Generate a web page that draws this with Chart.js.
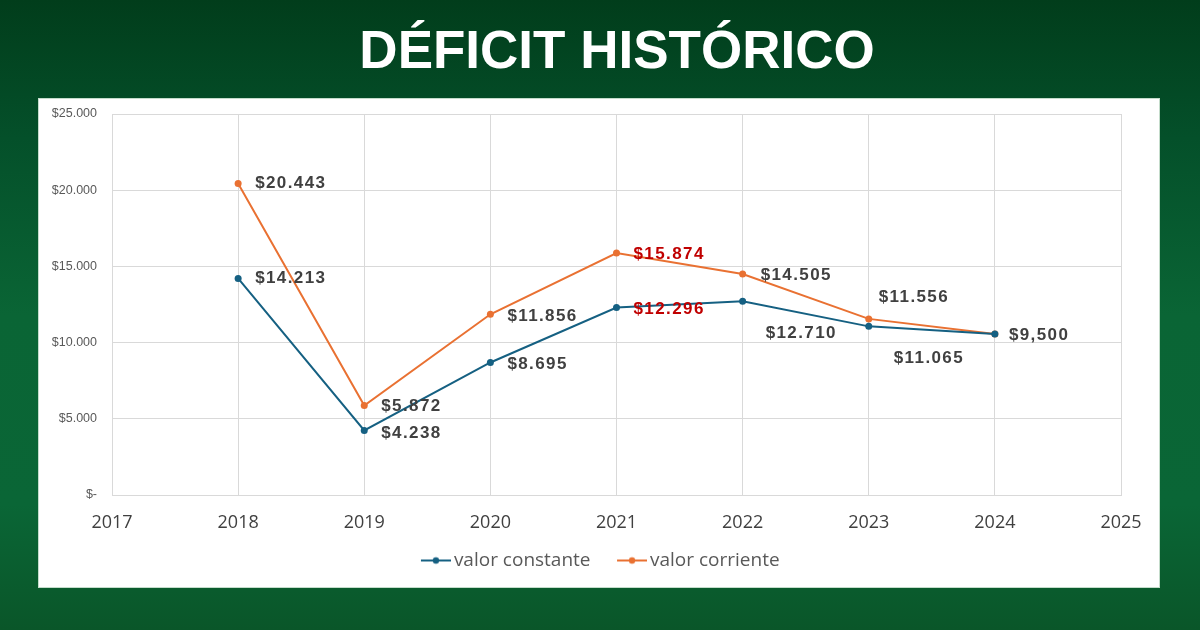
<!DOCTYPE html>
<html>
<head>
<meta charset="utf-8">
<script src="https://cdn.jsdelivr.net/npm/chart.js@4.4.1/dist/chart.umd.min.js"></script>
<style>
  html, body { margin: 0; padding: 0; }
  body {
    width: 1200px; height: 630px; overflow: hidden; position: relative;
    background: linear-gradient(180deg, #013d1b 0%, #04502a 22%, #0a6535 50%, #0a6636 80%, #0a5629 100%);
  }
  #title {
    position: absolute; left: 17px; top: 2px; width: 1200px; height: 94px;
    display: flex; align-items: center; justify-content: center;
    color: #fff; font-family: "Liberation Sans", Arial, sans-serif;
    font-weight: bold; font-size: 53px;
  }
  #panel {
    position: absolute; left: 38px; top: 98px; width: 1122px; height: 490px;
    background: #fff; border: 1px solid #c4dccb; box-sizing: border-box;
  }
  #deficitChart { display: block; }
</style>
</head>
<body>
<div id="title">DÉFICIT HISTÓRICO</div>
<div id="panel"><canvas id="deficitChart" width="1120" height="488"></canvas></div>
<script>
// data
const years = [2018, 2019, 2020, 2021, 2022, 2023, 2024];
const valorConstante = [14213, 4238, 8695, 12296, 12710, 11065, 10560];
const valorCorriente = [20443, 5872, 11856, 15874, 14505, 11556, 10560];
const constanteLabels = ['$14.213', '$4.238', '$8.695', '$12.296', '$12.710', '$11.065', ''];
const corrienteLabels = ['$20.443', '$5.872', '$11.856', '$15.874', '$14.505', '$11.556', '$9,500'];
const yTicks = [0, 5000, 10000, 15000, 20000, 25000];

// label placement (pixel offsets from each point)
const constanteOffsets = [[17, 0], [17, 3], [17, 2], [17, 2], [23, 32], [25, 32], [0, 0]];
const corrienteOffsets = [[17, 0], [17, 1], [17, 2], [17, 1], [18, 1], [10, -22], [14, 1]];
const redYear = 2021;

const BLUE = '#156082';
const ORANGE = '#E97132';

// line + dot legend marker, drawn on the right side so items get a wider gap
function legendIcon(color) {
  const c = document.createElement('canvas');
  c.width = 51; c.height = 10;
  const g = c.getContext('2d');
  g.strokeStyle = color; g.lineWidth = 2;
  g.beginPath(); g.moveTo(21, 5); g.lineTo(51, 5); g.stroke();
  g.fillStyle = color;
  g.beginPath(); g.arc(36, 5, 3.2, 0, Math.PI * 2); g.fill();
  return c;
}

const dataLabels = {
  id: 'dataLabels',
  afterLayout(chart) {
    // legend is centred on the whole panel, not on the padded box
    chart.legend.left += 13;
    chart.legend.right += 13;
  },
  afterDatasetsDraw(chart) {
    const ctx = chart.ctx;
    const sets = [[0, constanteLabels, constanteOffsets], [1, corrienteLabels, corrienteOffsets]];
    ctx.save();
    ctx.font = 'bold 17px "Liberation Sans", Arial, sans-serif';
    ctx.letterSpacing = '1.4px';
    ctx.textAlign = 'left';
    ctx.textBaseline = 'middle';
    sets.forEach(([i, texts, offs]) => {
      chart.getDatasetMeta(i).data.forEach((pt, j) => {
        if (!texts[j]) return;
        ctx.fillStyle = years[j] === redYear ? '#C00000' : '#404040';
        ctx.fillText(texts[j], pt.x + offs[j][0], pt.y + offs[j][1]);
      });
    });
    ctx.restore();
  }
};

const ctx = document.getElementById('deficitChart');
new Chart(ctx, {
  type: 'line',
  data: {
    datasets: [{
      label: 'valor constante',
      data: years.map((y, i) => ({ x: y, y: valorConstante[i] })),
      borderColor: BLUE,
      backgroundColor: BLUE,
      borderWidth: 2,
      pointRadius: 3.5,
      pointBackgroundColor: BLUE,
      pointBorderWidth: 0,
      tension: 0
    }, {
      label: 'valor corriente',
      data: years.map((y, i) => ({ x: y, y: valorCorriente[i] })),
      borderColor: ORANGE,
      backgroundColor: ORANGE,
      borderWidth: 2,
      pointRadius: 3.5,
      pointBackgroundColor: ORANGE,
      pointBorderWidth: 0,
      tension: 0
    }]
  },
  options: {
    responsive: false,
    animation: false,
    layout: { padding: { left: 0, right: 38, top: 15, bottom: 7 } },
    plugins: {
      tooltip: { enabled: false },
      legend: {
        position: 'bottom',
        labels: {
          usePointStyle: true,
          pointStyleWidth: 38,
          padding: 12,
          color: '#595959',
          font: { family: '"Open Sans", sans-serif', size: 19 },
          generateLabels(chart) {
            return chart.data.datasets.map((ds, i) => ({
              text: ds.label,
              pointStyle: legendIcon(ds.borderColor),
              fontColor: '#595959',
              strokeStyle: ds.borderColor,
              fillStyle: ds.borderColor,
              lineWidth: 0,
              datasetIndex: i
            }));
          }
        }
      }
    },
    scales: {
      x: {
        type: 'linear',
        min: 2017,
        max: 2025,
        afterFit(scale) { scale.height = 44; },
        ticks: {
          stepSize: 1,
          padding: 17,
          color: '#404040',
          font: { family: '"Open Sans", sans-serif', size: 18 },
          callback: v => String(v)
        },
        grid: { color: '#d9d9d9', drawTicks: false },
        border: { color: '#d9d9d9' }
      },
      y: {
        min: 0,
        max: 25000,
        afterFit(scale) {
          scale.width = 73;
          scale.paddingTop = 0;
          scale.paddingBottom = 0;
        },
        afterBuildTicks(scale) { scale.ticks = yTicks.map(v => ({ value: v })); },
        ticks: {
          padding: 15,
          color: '#595959',
          font: { family: '"Liberation Sans", Arial, sans-serif', size: 12.5 },
          callback: v => v === 0 ? '$-' : '$' + v.toLocaleString('de-DE')
        },
        grid: { color: '#d9d9d9', drawTicks: false },
        border: { color: '#d9d9d9' }
      }
    }
  },
  plugins: [dataLabels]
});
</script>
</body>
</html>
